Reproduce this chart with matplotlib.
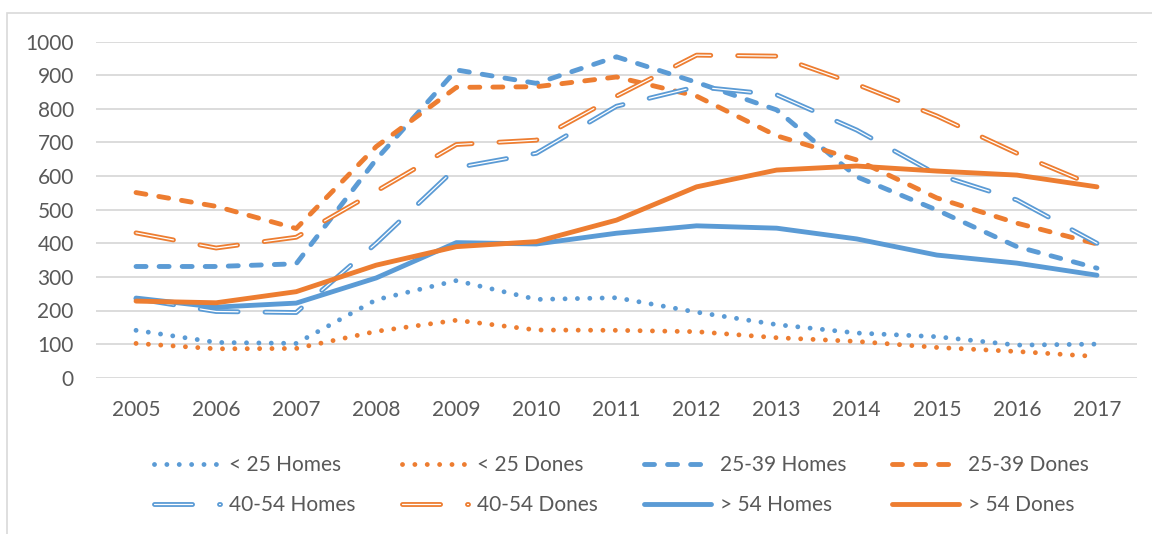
import matplotlib
matplotlib.use("Agg")
import matplotlib.pyplot as plt
from matplotlib import patheffects as pe
from matplotlib.patches import Rectangle

plt.rcParams['font.family'] = ['Lato', 'DejaVu Sans']
plt.rcParams['lines.scale_dashes'] = False

# ===== DATA =====
years = ['2005', '2006', '2007', '2008', '2009', '2010', '2011',
         '2012', '2013', '2014', '2015', '2016', '2017']

lt25_homes = [141, 105, 102, 232, 289, 233, 238, 195, 158, 133, 122, 97, 100]
lt25_dones = [102, 86, 87, 138, 171, 142, 141, 137, 119, 108, 90, 78, 63]
a25_39_homes = [331, 331, 339, 650, 916, 876, 955, 879, 797, 598, 499, 390, 326]
a25_39_dones = [551, 510, 444, 688, 864, 866, 895, 838, 720, 648, 535, 460, 398]
a40_54_homes = [235, 197, 194, 400, 625, 668, 808, 866, 842, 737, 605, 529, 400]
a40_54_dones = [431, 386, 418, 555, 694, 707, 838, 960, 957, 873, 779, 668, 568]
gt54_homes = [237, 210, 222, 297, 402, 398, 430, 452, 445, 413, 365, 341, 305]
gt54_dones = [228, 223, 256, 335, 390, 405, 469, 568, 618, 630, 615, 603, 568]

BLUE = '#5B9BD5'
ORANGE = '#ED7D31'
GRID = '#D9D9D9'
TEXT = '#595959'
LW = 3.5
FS = 15

# ===== FIGURE =====
fig = plt.figure(figsize=(11.52, 5.34), dpi=100)
ax = fig.add_axes([96 / 1152, 1 - 377.7 / 534, (1137 - 96) / 1152, (377.7 - 41.7) / 534])
x = list(range(len(years)))


def ve_cham(y, mau, nhan):
    """dotted"""
    return ax.plot(x, y, color=mau, lw=LW, dashes=(0.01, 8.9),
                   dash_capstyle='round', label=nhan)[0]


def ve_gach(y, mau, nhan):
    """dashed"""
    return ax.plot(x, y, color=mau, lw=LW, dashes=(7.2, 9.4),
                   dash_capstyle='round', label=nhan)[0]


def ve_doi(y, mau, nhan):
    """double line, long dash"""
    return ax.plot(x, y, color='white', lw=0.9, dashes=(27.4, 19.4),
                   dash_capstyle='round', label=nhan,
                   path_effects=[pe.Stroke(linewidth=LW, foreground=mau), pe.Normal()])[0]


def ve_lien(y, mau, nhan):
    """solid"""
    return ax.plot(x, y, color=mau, lw=LW, solid_capstyle='round',
                   solid_joinstyle='round', label=nhan)[0]


h1 = ve_cham(lt25_homes, BLUE, '< 25 Homes')
h2 = ve_cham(lt25_dones, ORANGE, '< 25 Dones')
h3 = ve_gach(a25_39_homes, BLUE, '25-39 Homes')
h4 = ve_gach(a25_39_dones, ORANGE, '25-39 Dones')
h5 = ve_doi(a40_54_homes, BLUE, '40-54 Homes')
h6 = ve_doi(a40_54_dones, ORANGE, '40-54 Dones')
h7 = ve_lien(gt54_homes, BLUE, '> 54 Homes')
h8 = ve_lien(gt54_dones, ORANGE, '> 54 Dones')

ax.set_xlim(-0.5, len(years) - 0.5)
ax.set_ylim(0, 1000)
ax.set_xticks(x)
ax.set_xticklabels(years)
ax.set_yticks(range(0, 1001, 100))
ax.tick_params(axis='both', length=0, labelsize=FS, colors=TEXT)
ax.tick_params(axis='y', pad=16)
ax.tick_params(axis='x', pad=16)
ax.grid(axis='y', color=GRID, lw=1.3)
ax.set_axisbelow(True)
for s in ax.spines.values():
    s.set_visible(False)

# legend: columns filled top to bottom
handles = [h1, h5, h2, h6, h3, h7, h4, h8]
leg = fig.legend(handles=handles, labels=[h.get_label() for h in handles],
                 ncol=4, loc='center', bbox_to_anchor=(621 / 1152, 1 - 485 / 534),
                 frameon=False, fontsize=FS, handlelength=3.2, handletextpad=0.43,
                 columnspacing=2.2, labelspacing=0.95)
for t in leg.get_texts():
    t.set_color(TEXT)

# outer chart border
fig.patches.append(Rectangle((7 / 1152, -0.2), 1.2, 1.2 - 13 / 534,
                             transform=fig.transFigure, fill=False,
                             ec=GRID, lw=1.2))

fig.savefig('out.png', dpi=100)
